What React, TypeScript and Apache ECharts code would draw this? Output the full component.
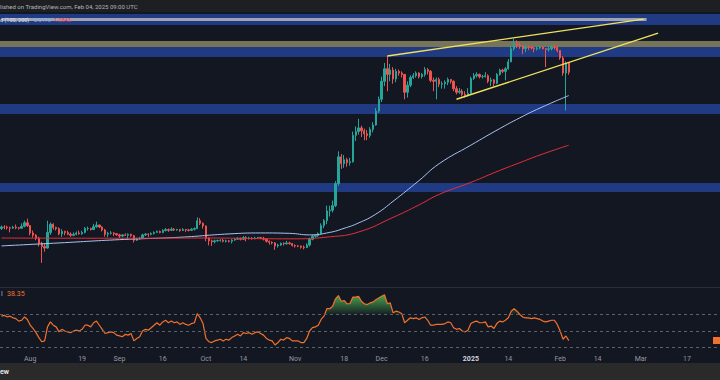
import React, { useEffect, useRef } from "react";
import * as echarts from "echarts";

// ---------- data (XRP/USDT daily) ----------
const START = [2024, 6, 22]; // 2024-07-22, first day on the axis
const AXIS_DAYS = 250; // axis runs to 2025-03-28

const firstOpen = 0.596;
// Jul22..Jul31, Aug, Sep, Oct, Nov, Dec, Jan, Feb1..Feb4
const closes = [
  0.604, 0.603, 0.600, 0.598, 0.604, 0.600, 0.597, 0.608, 0.628, 0.612,
  0.572, 0.560, 0.545, 0.520, 0.505, 0.498, 0.575, 0.620, 0.602, 0.595, 0.567, 0.580, 0.574, 0.566, 0.560, 0.565, 0.572, 0.568, 0.575, 0.596, 0.596, 0.590, 0.606, 0.615, 0.604, 0.588, 0.565, 0.570, 0.572, 0.568, 0.562,
  0.556, 0.562, 0.560, 0.565, 0.558, 0.535, 0.542, 0.546, 0.562, 0.566, 0.565, 0.569, 0.575, 0.580, 0.575, 0.585, 0.590, 0.586, 0.592, 0.588, 0.590, 0.585, 0.590, 0.588, 0.586, 0.592, 0.595, 0.640, 0.625, 0.610,
  0.545, 0.532, 0.528, 0.532, 0.534, 0.535, 0.530, 0.532, 0.530, 0.536, 0.540, 0.545, 0.540, 0.548, 0.545, 0.546, 0.542, 0.546, 0.548, 0.545, 0.540, 0.530, 0.525, 0.522, 0.508, 0.512, 0.520, 0.518, 0.522, 0.519, 0.510,
  0.508, 0.507, 0.502, 0.500, 0.512, 0.540, 0.555, 0.558, 0.568, 0.612, 0.640, 0.700, 0.705, 0.735, 0.900, 1.150, 1.080, 1.120, 1.090, 1.100, 1.400, 1.450, 1.500, 1.460, 1.420, 1.400, 1.480, 1.540, 1.750, 1.950,
  2.30, 2.58, 2.45, 2.55, 2.35, 2.52, 2.48, 2.45, 2.08, 2.22, 2.38, 2.42, 2.48, 2.40, 2.45, 2.56, 2.52, 2.32, 2.30, 2.34, 2.24, 2.25, 2.28, 2.34, 2.30, 2.15, 2.08, 2.10, 2.04, 2.02, 2.06,
  2.36, 2.42, 2.45, 2.40, 2.40, 2.42, 2.30, 2.33, 2.26, 2.45, 2.55, 2.52, 2.58, 2.75, 3.10, 3.25, 3.20, 3.18, 3.10, 3.15, 3.14, 3.12, 3.10, 3.12, 3.15, 3.10, 3.08, 3.10, 3.15, 3.14, 3.05,
  2.85, 2.48, 2.72, 2.50,
];
const highs = [
  0.612, 0.614, 0.612, 0.606, 0.610, 0.618, 0.604, 0.625, 0.640, 0.652,
  0.614, 0.585, 0.566, 0.552, 0.528, 0.520, 0.640, 0.630, 0.625, 0.606, 0.602, 0.592, 0.584, 0.584, 0.575, 0.575, 0.580, 0.585, 0.584, 0.604, 0.606, 0.600, 0.622, 0.635, 0.618, 0.608, 0.594, 0.578, 0.582, 0.576, 0.572,
  0.568, 0.566, 0.570, 0.570, 0.568, 0.562, 0.548, 0.552, 0.568, 0.572, 0.570, 0.575, 0.580, 0.585, 0.585, 0.592, 0.598, 0.596, 0.602, 0.598, 0.594, 0.594, 0.598, 0.594, 0.594, 0.598, 0.602, 0.660, 0.655, 0.630,
  0.612, 0.550, 0.538, 0.538, 0.538, 0.540, 0.542, 0.538, 0.536, 0.540, 0.545, 0.550, 0.548, 0.556, 0.555, 0.552, 0.550, 0.552, 0.552, 0.552, 0.552, 0.544, 0.534, 0.530, 0.526, 0.518, 0.524, 0.525, 0.532, 0.528, 0.522,
  0.515, 0.512, 0.510, 0.510, 0.520, 0.548, 0.562, 0.565, 0.575, 0.625, 0.650, 0.735, 0.735, 0.770, 0.920, 1.210, 1.180, 1.170, 1.140, 1.140, 1.450, 1.520, 1.630, 1.530, 1.490, 1.470, 1.510, 1.580, 1.800, 2.000,
  2.40, 2.72, 2.90, 2.70, 2.62, 2.58, 2.56, 2.52, 2.46, 2.30, 2.43, 2.48, 2.52, 2.50, 2.48, 2.62, 2.60, 2.55, 2.38, 2.38, 2.38, 2.30, 2.32, 2.38, 2.34, 2.32, 2.20, 2.16, 2.14, 2.10, 2.16,
  2.40, 2.48, 2.50, 2.47, 2.44, 2.50, 2.45, 2.38, 2.35, 2.48, 2.58, 2.58, 2.62, 2.82, 3.18, 3.40, 3.35, 3.28, 3.20, 3.22, 3.20, 3.18, 3.15, 3.16, 3.18, 3.16, 3.12, 3.18, 3.20, 3.22, 3.18,
  3.06, 2.90, 2.76, 2.74,
];
const lows = [
  0.588, 0.592, 0.590, 0.575, 0.594, 0.592, 0.590, 0.596, 0.602, 0.604,
  0.560, 0.548, 0.535, 0.505, 0.435, 0.482, 0.495, 0.562, 0.590, 0.585, 0.560, 0.552, 0.560, 0.560, 0.552, 0.555, 0.560, 0.563, 0.562, 0.570, 0.585, 0.585, 0.588, 0.600, 0.598, 0.580, 0.553, 0.550, 0.564, 0.556, 0.558,
  0.546, 0.550, 0.556, 0.540, 0.552, 0.524, 0.532, 0.538, 0.544, 0.556, 0.552, 0.560, 0.564, 0.574, 0.570, 0.570, 0.580, 0.578, 0.582, 0.583, 0.584, 0.578, 0.582, 0.578, 0.580, 0.582, 0.585, 0.593, 0.615, 0.595,
  0.530, 0.510, 0.508, 0.520, 0.528, 0.528, 0.525, 0.524, 0.524, 0.520, 0.532, 0.538, 0.534, 0.536, 0.530, 0.538, 0.538, 0.540, 0.542, 0.540, 0.534, 0.524, 0.514, 0.515, 0.490, 0.500, 0.508, 0.510, 0.514, 0.514, 0.505,
  0.500, 0.502, 0.495, 0.492, 0.498, 0.505, 0.535, 0.548, 0.552, 0.565, 0.598, 0.620, 0.665, 0.690, 0.725, 0.880, 1.030, 1.040, 1.050, 1.060, 1.090, 1.330, 1.410, 1.380, 1.340, 1.340, 1.370, 1.440, 1.530, 1.720,
  1.90, 2.20, 2.10, 2.30, 2.25, 2.28, 2.42, 2.38, 1.95, 1.98, 2.18, 2.35, 2.38, 2.36, 2.36, 2.40, 2.45, 2.28, 2.10, 1.95, 2.18, 2.15, 2.15, 2.22, 2.25, 2.10, 2.04, 2.05, 2.00, 1.98, 2.00,
  2.05, 2.33, 2.38, 2.36, 2.36, 2.38, 2.26, 2.20, 2.20, 2.24, 2.42, 2.48, 2.32, 2.56, 2.74, 3.05, 3.12, 3.10, 2.95, 3.00, 3.06, 3.08, 3.00, 3.05, 3.08, 3.08, 2.62, 3.02, 3.05, 3.08, 3.00,
  2.80, 2.42, 1.76, 2.44,
];

// RSI (14), one value per candle
const rsi = [
  68, 69, 67, 68, 66, 65, 62, 63, 67, 64,
  57, 53, 48, 42, 37, 38, 55, 61, 57, 55,
  49, 52, 50, 49, 48, 50, 51, 50, 52, 57,
  57, 55, 60, 62, 57, 52, 47, 48, 49, 48,
  45, 44, 43, 46, 45, 47, 38, 41, 43, 50,
  52, 51, 54, 57, 60, 57, 61, 63, 60, 62,
  60, 61, 58, 60, 58, 57, 59, 60, 71, 66,
  59, 41, 37, 36, 38, 39, 40, 38, 40, 39,
  42, 44, 46, 44, 48, 47, 48, 46, 48, 49,
  47, 45, 41, 39, 38, 33, 36, 40, 39, 42,
  41, 38, 38, 38, 36, 36, 41, 50, 54, 55,
  57, 64, 68, 77, 77, 80, 89, 93, 86, 87,
  83, 83, 91, 91, 92, 86, 83, 82, 84, 85,
  88, 90, 92, 94, 83, 84, 72, 74, 73, 71,
  60, 63, 66, 65, 66, 64, 66, 67, 63, 57,
  57, 58, 58, 58, 59, 61, 60, 54, 52, 53,
  50, 49, 51, 59, 61, 62, 60, 60, 61, 55,
  56, 53, 59, 62, 61, 63, 66, 74, 77, 74,
  70, 67, 66, 66, 65, 66, 65, 64, 62, 61,
  62, 63, 63, 58, 50, 40, 44, 38.35,
];
const rsiLevels = [70, 50, 30];

// moving averages (100 and 200), sampled
const ma100Dates = ["2024-07-22", "2024-08-11", "2024-09-01", "2024-09-22", "2024-10-09", "2024-10-20", "2024-10-30", "2024-11-06", "2024-11-13", "2024-11-18", "2024-11-23", "2024-11-29", "2024-12-05", "2024-12-14", "2024-12-21", "2025-01-01", "2025-01-11", "2025-01-18", "2025-01-25", "2025-02-04"];
const ma100Vals = [0.508, 0.522, 0.538, 0.550, 0.567, 0.572, 0.570, 0.562, 0.575, 0.597, 0.627, 0.680, 0.765, 0.925, 1.080, 1.280, 1.490, 1.645, 1.800, 2.0176];
const ma200Dates = ["2024-07-22", "2024-09-01", "2024-10-01", "2024-10-30", "2024-11-13", "2024-11-23", "2024-12-05", "2024-12-14", "2024-12-21", "2025-01-01", "2025-01-11", "2025-01-18", "2025-01-25", "2025-02-04"];
const ma200Vals = [0.546, 0.545, 0.546, 0.542, 0.552, 0.577, 0.660, 0.740, 0.815, 0.910, 1.015, 1.090, 1.170, 1.280];

// rising wedge trendlines
const upperTrendDates = ["2024-12-03", "2025-03-02"];
const upperTrendVals = [2.90, 4.07];
const lowerTrendDates = ["2024-12-27", "2025-03-07"];
const lowerTrendVals = [1.95, 3.58];

// horizontal zones [low, high]
const blueZones = [[3.855, 4.264], [2.874, 3.151], [1.704, 1.867], [0.833, 0.905]];
const oliveZone = [3.151, 3.329];
const greyLevel = 4.05;
const greyLevelEnd = "2025-03-03";

const tickDates = ["2024-08-01", "2024-08-19", "2024-09-01", "2024-09-16", "2024-10-01", "2024-10-14", "2024-11-01", "2024-11-18", "2024-12-01", "2024-12-16", "2025-01-01", "2025-01-14", "2025-02-01", "2025-02-14", "2025-03-01", "2025-03-17"];
const tickLabels = ["Aug", "19", "Sep", "16", "Oct", "14", "Nov", "18", "Dec", "16", "2025", "14", "Feb", "14", "Mar", "17"];

const PRICE_MIN = 0.3484;
const PRICE_MAX = 4.3434;
const RSI_MIN = 26.97;
const RSI_MAX = 103.33;

// ---------- helpers ----------
const L = Math.log;
function buildDates(): string[] {
  const out: string[] = [];
  for (let i = 0; i < AXIS_DAYS; i++) {
    const d = new Date(Date.UTC(START[0], START[1], START[2] + i));
    out.push(d.toISOString().slice(0, 10));
  }
  return out;
}

const BG = "#131722";
const BLUE = "#203b84";
const OLIVE = "#76755a";
const UP = "#26a69a";
const DOWN = "#ef5350";
const RSI_COLOR = "#f2712b";
const FONT = "Roboto, 'DejaVu Sans', sans-serif";

export default function App() {
  const ref = useRef<HTMLDivElement>(null);
  useEffect(() => {
    if (!ref.current) return;
    const chart = echarts.init(ref.current, null, { renderer: "svg" });
    const dates = buildDates();
    const candle = closes.map((c, i) => {
      const o = i === 0 ? firstOpen : closes[i - 1];
      return [L(o), L(c), L(lows[i]), L(highs[i])];
    });
    const tickMap: Record<string, string> = {};
    tickDates.forEach((d, i) => (tickMap[d] = tickLabels[i]));

    const zoneAreas: any[] = blueZones.map(([lo, hi]) => [
      { yAxis: L(lo), itemStyle: { color: BLUE, opacity: 1 } },
      { yAxis: L(hi) },
    ]);
    zoneAreas.push([
      { yAxis: L(oliveZone[0]), itemStyle: { color: OLIVE, opacity: 1 } },
      { yAxis: L(oliveZone[1]) },
    ]);

    const option: any = {
      animation: false,
      backgroundColor: BG,
      textStyle: { fontFamily: FONT },
      grid: [
        { left: 0, right: 0, top: 12, height: 275 },
        { left: 0, right: 0, top: 287, height: 63 },
      ],
      xAxis: [
        { type: "category", gridIndex: 0, data: dates, boundaryGap: true, show: false },
        {
          type: "category",
          gridIndex: 1,
          data: dates,
          boundaryGap: true,
          axisLine: { show: false },
          axisTick: { show: false },
          splitLine: { show: false },
          axisLabel: {
            interval: (_i: number, v: string) => tickMap[v] !== undefined,
            formatter: (v: string) => (tickMap[v] === "2025" ? "{b|2025}" : tickMap[v] || ""),
            color: "#9598a1",
            fontSize: 7,
            fontFamily: FONT,
            margin: 5,
            rich: { b: { fontWeight: "bold", color: "#d1d4dc", fontSize: 7, fontFamily: FONT } },
          },
        },
      ],
      yAxis: [
        { type: "value", gridIndex: 0, min: L(PRICE_MIN), max: L(PRICE_MAX), show: false },
        { type: "value", gridIndex: 1, min: RSI_MIN, max: RSI_MAX, show: false },
      ],
      series: [
        {
          name: "zones",
          type: "line",
          xAxisIndex: 0,
          yAxisIndex: 0,
          data: [],
          z: 1,
          markArea: { silent: true, data: zoneAreas },
        },
        {
          name: "grey",
          type: "line",
          xAxisIndex: 0,
          yAxisIndex: 0,
          data: [[dates[0], L(greyLevel)], [greyLevelEnd, L(greyLevel)]],
          symbol: "none",
          lineStyle: { color: "#9fa4ae", width: 3 },
          z: 2,
          silent: true,
        },
        {
          name: "price",
          type: "candlestick",
          xAxisIndex: 0,
          yAxisIndex: 0,
          data: candle,
          barWidth: 1.8,
          z: 3,
          itemStyle: { color: UP, color0: DOWN, borderColor: UP, borderColor0: DOWN, borderWidth: 1 },
        },
        {
          name: "MA100",
          type: "line",
          xAxisIndex: 0,
          yAxisIndex: 0,
          data: ma100Dates.map((d, i) => [d, L(ma100Vals[i])]),
          smooth: 0.5,
          symbol: "none",
          lineStyle: { color: "#a9c4f2", width: 1 },
          z: 4,
        },
        {
          name: "MA200",
          type: "line",
          xAxisIndex: 0,
          yAxisIndex: 0,
          data: ma200Dates.map((d, i) => [d, L(ma200Vals[i])]),
          smooth: 0.5,
          symbol: "none",
          lineStyle: { color: "#e3303c", width: 1 },
          z: 4,
        },
        {
          name: "upper",
          type: "line",
          xAxisIndex: 0,
          yAxisIndex: 0,
          data: upperTrendDates.map((d, i) => [d, L(upperTrendVals[i])]),
          symbol: "none",
          lineStyle: { color: "#f2e25c", width: 1.4 },
          z: 5,
        },
        {
          name: "lower",
          type: "line",
          xAxisIndex: 0,
          yAxisIndex: 0,
          data: lowerTrendDates.map((d, i) => [d, L(lowerTrendVals[i])]),
          symbol: "none",
          lineStyle: { color: "#f2e25c", width: 1.4 },
          z: 5,
        },
        {
          name: "rsiBase",
          type: "line",
          xAxisIndex: 1,
          yAxisIndex: 1,
          stack: "rsi",
          data: rsi.map(() => 70),
          symbol: "none",
          lineStyle: { opacity: 0 },
          z: 1,
          silent: true,
        },
        {
          name: "rsiFill",
          type: "line",
          xAxisIndex: 1,
          yAxisIndex: 1,
          stack: "rsi",
          data: rsi.map((v) => Math.max(v - 70, 0)),
          symbol: "none",
          lineStyle: { opacity: 0 },
          areaStyle: {
            opacity: 1,
            color: new echarts.graphic.LinearGradient(0, 0, 0, 1, [
              { offset: 0, color: "rgba(76,175,80,0.95)" },
              { offset: 1, color: "rgba(76,175,80,0.05)" },
            ]),
          },
          z: 1,
          silent: true,
        },
        {
          name: "RSI",
          type: "line",
          xAxisIndex: 1,
          yAxisIndex: 1,
          data: rsi,
          symbol: "none",
          lineStyle: { color: RSI_COLOR, width: 1.2 },
          z: 3,
          markLine: {
            silent: true,
            symbol: "none",
            label: { show: false },
            lineStyle: { color: "#5d606b", type: [3, 3], width: 1 },
            data: rsiLevels.map((v) => ({ yAxis: v })),
          },
        },
      ],
      graphic: [
        { type: "rect", shape: { x: 0, y: 0, width: 720, height: 12 }, style: { fill: "#1e1f23" }, z: 10 },
        {
          type: "text",
          x: 0,
          y: 6,
          style: { text: "lished on TradingView.com, Feb 04, 2025 09:00 UTC", fill: "#b2b5be", font: `6px ${FONT}`, verticalAlign: "middle" },
          z: 11,
        },
        { type: "text", x: 0, y: 19.5, style: { text: "d (100, 200)", fill: "#dfe2ea", font: `5.5px ${FONT}`, verticalAlign: "middle" }, z: 11 },
        { type: "text", x: 34, y: 19.5, style: { text: "2.0176", fill: "#7fb0f5", font: `5.5px ${FONT}`, verticalAlign: "middle" }, z: 11 },
        { type: "text", x: 54, y: 19.5, style: { text: "1.2843", fill: "#f23645", font: `5.5px ${FONT}`, verticalAlign: "middle" }, z: 11 },
        { type: "line", shape: { x1: 0, y1: 287.5, x2: 720, y2: 287.5 }, style: { stroke: "#2a2e39", lineWidth: 1 }, z: 11 },
        { type: "text", x: 1, y: 294, style: { text: "l", fill: "#b2b5be", font: `7px ${FONT}`, verticalAlign: "middle" }, z: 11 },
        { type: "text", x: 7, y: 294, style: { text: "38.35", fill: RSI_COLOR, font: `7px ${FONT}`, verticalAlign: "middle" }, z: 11 },
        { type: "rect", shape: { x: 713, y: 337, width: 7, height: 7 }, style: { fill: RSI_COLOR }, z: 11 },
        { type: "rect", shape: { x: 0, y: 363, width: 720, height: 17 }, style: { fill: "#2a2a2a" }, z: 10 },
        { type: "text", x: 0, y: 371.5, style: { text: "ew", fill: "#e6e6e6", font: `bold 7px ${FONT}`, verticalAlign: "middle" }, z: 11 },
      ],
    };
    chart.setOption(option);
    return () => chart.dispose();
  }, []);
  return <div ref={ref} style={{ position: "absolute", left: 0, top: 0, width: 720, height: 380 }} />;
}
